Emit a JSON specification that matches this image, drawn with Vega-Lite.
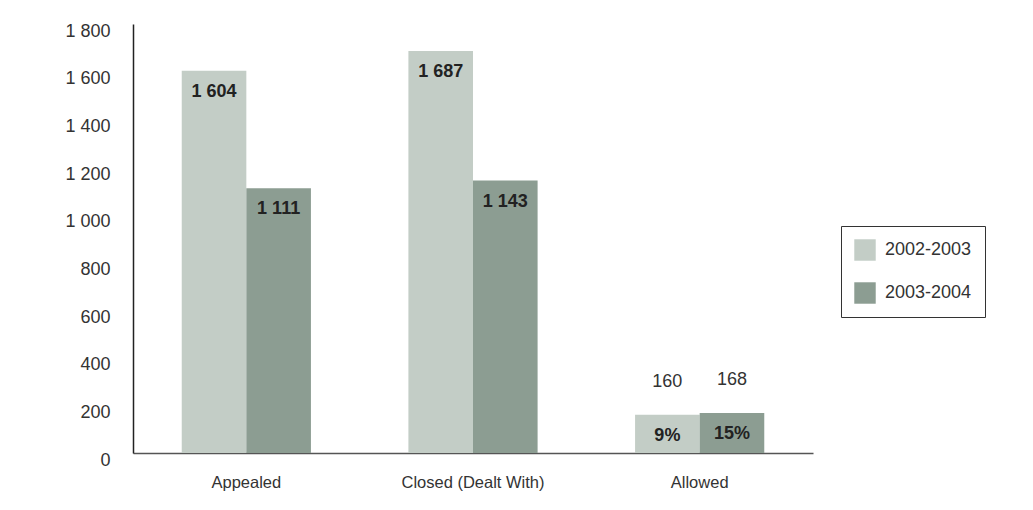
{
  "$schema": "https://vega.github.io/schema/vega-lite/v6.json",
  "autosize": {"type": "none"},
  "width": 680,
  "height": 429,
  "padding": {"left": 133, "top": 24, "right": 220, "bottom": 57},
  "background": "white",
  "config": {
    "locale": {"number": {"decimal": ".", "thousands": " ", "grouping": [3], "currency": ["", ""]}},
    "view": {"stroke": null},
    "font": "Liberation Sans, Arial, sans-serif"
  },
  "data": {
    "values": [
      {"category": "Appealed", "period": "2002-2003", "value": 1604, "share": null},
      {"category": "Appealed", "period": "2003-2004", "value": 1111, "share": null},
      {"category": "Closed (Dealt With)", "period": "2002-2003", "value": 1687, "share": null},
      {"category": "Closed (Dealt With)", "period": "2003-2004", "value": 1143, "share": null},
      {"category": "Allowed", "period": "2002-2003", "value": 160, "share": 0.09},
      {"category": "Allowed", "period": "2003-2004", "value": 168, "share": 0.15}
    ]
  },
  "encoding": {
    "x": {
      "field": "category",
      "type": "nominal",
      "sort": ["Appealed", "Closed (Dealt With)", "Allowed"],
      "scale": {"paddingInner": 0.43, "paddingOuter": 0.215},
      "axis": {
        "title": null,
        "labelAngle": 0,
        "ticks": false,
        "domainColor": "#555555",
        "domainWidth": 1.5,
        "labelFontSize": 16.5,
        "labelColor": "#333333",
        "labelPadding": 21,
        "labelLimit": 400
      }
    },
    "xOffset": {"field": "period", "type": "nominal", "sort": ["2002-2003", "2003-2004"]},
    "y": {
      "field": "value",
      "type": "quantitative",
      "scale": {"domain": [0, 1800], "nice": false},
      "axis": {
        "title": null,
        "values": [0, 200, 400, 600, 800, 1000, 1200, 1400, 1600, 1800],
        "format": ",d",
        "grid": false,
        "ticks": false,
        "domainColor": "#222222",
        "domainWidth": 1.5,
        "labelFontSize": 18,
        "labelColor": "#333333",
        "labelPadding": 23,
        "labelOffset": 7
      }
    }
  },
  "layer": [
    {
      "mark": {"type": "bar"},
      "encoding": {
        "color": {
          "field": "period",
          "type": "nominal",
          "scale": {"domain": ["2002-2003", "2003-2004"], "range": ["#c3cdc6", "#8c9d92"]},
          "legend": {
            "title": null,
            "orient": "none",
            "legendX": 708,
            "legendY": 202,
            "symbolType": "square",
            "symbolSize": 460,
            "symbolStrokeWidth": 0,
            "labelFontSize": 18,
            "labelColor": "#333333",
            "labelOffset": 9,
            "padding": 13,
            "rowPadding": 21,
            "strokeColor": "#333333",
            "fillColor": "white"
          }
        }
      }
    },
    {
      "transform": [{"filter": "datum.share == null"}],
      "mark": {"type": "text", "fontWeight": "bold", "fontSize": 18, "color": "#222222", "baseline": "middle", "dy": 21},
      "encoding": {"text": {"field": "value", "type": "quantitative", "format": ",d"}}
    },
    {
      "transform": [{"filter": "datum.share != null"}],
      "mark": {"type": "text", "fontSize": 18, "color": "#333333", "baseline": "middle", "dy": -33},
      "encoding": {"text": {"field": "value", "type": "quantitative", "format": ",d"}}
    },
    {
      "transform": [{"filter": "datum.share != null"}],
      "mark": {"type": "text", "fontWeight": "bold", "fontSize": 18, "color": "#222222", "baseline": "middle", "dy": 21},
      "encoding": {"text": {"field": "share", "type": "quantitative", "format": ".0%"}}
    }
  ]
}
